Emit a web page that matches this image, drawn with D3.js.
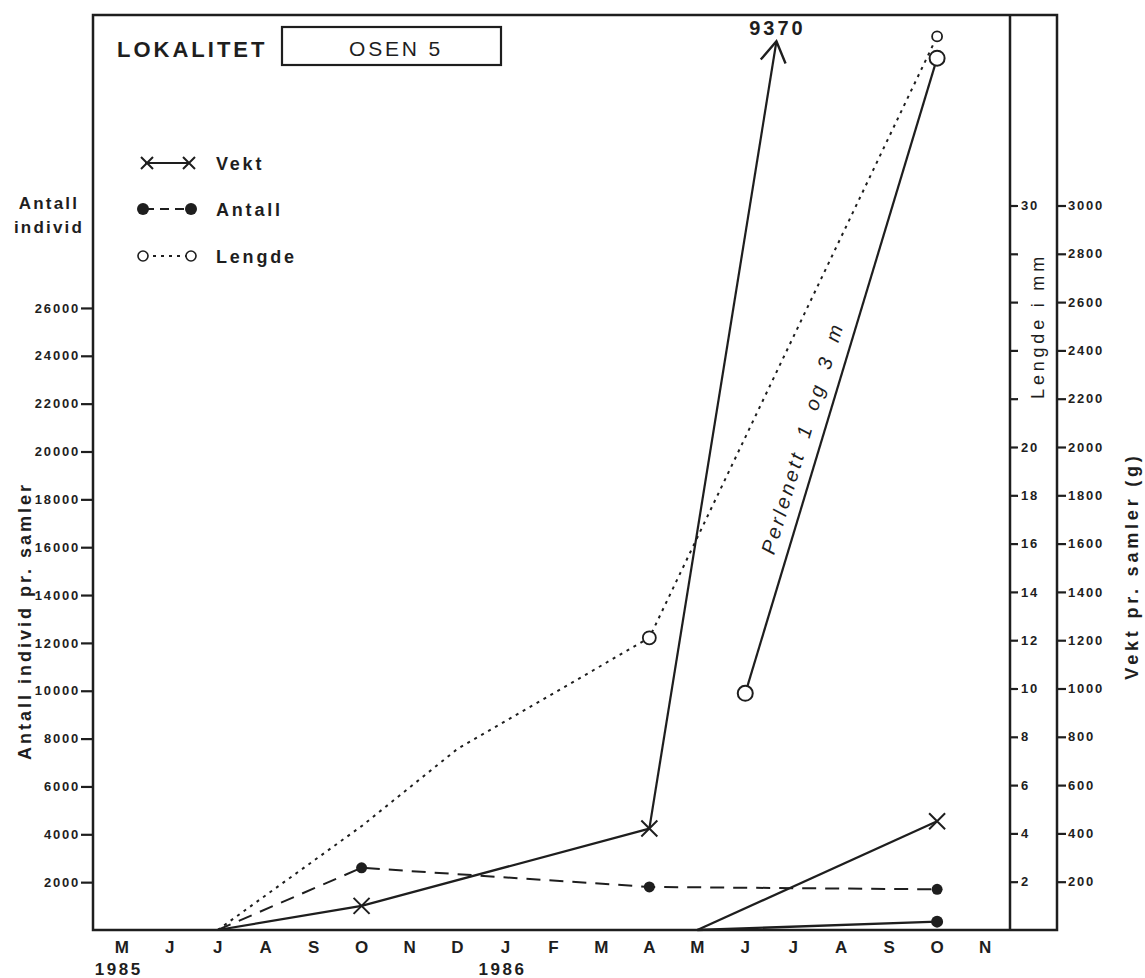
<!DOCTYPE html>
<html>
<head>
<meta charset="utf-8">
<script src="https://cdn.jsdelivr.net/npm/d3@7"></script>
<style>
  body { margin: 0; background: #fff; }
  svg text { font-family: "Liberation Sans", Arial, sans-serif; fill: #1e1e1e; }
</style>
</head>
<body>
<div class="graphic"></div>
<script>
// months counted from May 1985 (0) to Nov 1986 (18)
var monthLabels = ["M", "J", "J", "A", "S", "O", "N", "D", "J", "F", "M", "A", "M", "J", "J", "A", "S", "O", "N"];
var yearLabels = [{ m: 0, t: "1985" }, { m: 8, t: "1986" }];

var antallTicks = [2000, 4000, 6000, 8000, 10000, 12000, 14000, 16000, 18000, 20000, 22000, 24000, 26000];
var lengdeTicks = [2, 4, 6, 8, 10, 12, 14, 16, 18, 20, 22, 24, 26, 28, 30];
var lengdeLabelled = [2, 4, 6, 8, 10, 12, 14, 16, 18, 20, 30];
var vektTicks = [200, 400, 600, 800, 1000, 1200, 1400, 1600, 1800, 2000, 2200, 2400, 2600, 2800, 3000];

// Vekt (g), main series
var vektMonths = [2, 5, 11];
var vektValues = [0, 100, 420];
// off-scale value shown by arrow
var vektArrow = { m: 13.65, v: 3680, label: "9370" };

// Antall individ pr. samler
var antallMonths = [2, 5, 11, 17];
var antallValues = [0, 2600, 1800, 1700];

// Lengde i mm
var lengdeMonths = [2, 5, 7, 11, 17];
var lengdeValues = [0, 4.3, 7.5, 12.1, 37.0];
var lengdeMarked = [false, false, false, true, true];

// Perlenett 1 og 3 m
var perlLengdeMonths = [13, 17];
var perlLengdeValues = [9.8, 36.1];
var perlVektMonths = [12, 17];
var perlVektValues = [0, 450];
var perlAntallMonths = [12, 17];
var perlAntallValues = [0, 350];

var render = function() {
  var W = 1145, H = 978;
  var left = 93, right = 1010, outer = 1057, top = 15, bottom = 930;
  var ink = "#1e1e1e";
  var font = "'Liberation Sans', Arial, sans-serif";

  var svg = d3.select(".graphic").append("svg")
    .attr("width", W).attr("height", H);

  var x = d3.scaleLinear().domain([-0.6, 18.52]).range([left, right]);
  var yA = d3.scaleLinear().domain([0, 2000 * (bottom - top) / 47.85]).range([bottom, top]);
  var yL = d3.scaleLinear().domain([0, 2 * (bottom - top) / 48.3]).range([bottom, top]);
  var yV = d3.scaleLinear().domain([0, 200 * (bottom - top) / 48.3]).range([bottom, top]);

  // frame
  svg.append("path")
    .attr("d", "M" + left + "," + bottom + "V" + top + "H" + outer + "V" + bottom + "Z")
    .attr("fill", "none").attr("stroke", ink).attr("stroke-width", 2.5);
  svg.append("line")
    .attr("x1", right).attr("x2", right).attr("y1", top).attr("y2", bottom)
    .attr("stroke", ink).attr("stroke-width", 2.5);

  function styleAxis(g) {
    g.select(".domain").remove();
    g.selectAll("line").attr("stroke", ink).attr("stroke-width", 2.2);
    g.selectAll("text").attr("font-size", 13).attr("font-weight", "bold").attr("fill", ink)
      .attr("letter-spacing", 1.8).style("font-family", font);
  }

  // left axis
  var gA = svg.append("g").attr("transform", "translate(" + left + ",0)")
    .call(d3.axisLeft(yA).tickValues(antallTicks).tickSize(12).tickPadding(1).tickFormat(d3.format("d")));
  styleAxis(gA);

  // inner right axis (Lengde)
  var gL = svg.append("g").attr("transform", "translate(" + right + ",0)")
    .call(d3.axisRight(yL).tickValues(lengdeTicks).tickSize(8).tickPadding(3)
      .tickFormat(function(d) { return lengdeLabelled.indexOf(d) >= 0 ? d : ""; }));
  styleAxis(gL);

  // outer right axis (Vekt)
  var gV = svg.append("g").attr("transform", "translate(" + outer + ",0)")
    .call(d3.axisRight(yV).tickValues(vektTicks).tickSize(9).tickPadding(2).tickFormat(d3.format("d")));
  styleAxis(gV);

  // x axis labels
  svg.append("g").selectAll("text").data(monthLabels).enter().append("text")
    .attr("x", function(d, i) { return x(i); })
    .attr("y", 953)
    .attr("text-anchor", "middle")
    .attr("font-size", 17).attr("font-weight", "bold")
    .text(function(d) { return d; });
  svg.append("g").selectAll("text").data(yearLabels).enter().append("text")
    .attr("x", function(d) { return x(d.m) - 3; })
    .attr("y", 975)
    .attr("text-anchor", "middle")
    .attr("font-size", 17).attr("font-weight", "bold").attr("letter-spacing", 2.5)
    .text(function(d) { return d.t; });

  // axis titles
  svg.append("text").attr("transform", "translate(31,621) rotate(-90)")
    .attr("text-anchor", "middle").attr("font-size", 18).attr("font-weight", "bold")
    .attr("letter-spacing", 3).text("Antall individ pr. samler");
  svg.append("text").attr("x", 49).attr("y", 209).attr("text-anchor", "middle")
    .attr("font-size", 17).attr("font-weight", "bold").attr("letter-spacing", 2.2).text("Antall");
  svg.append("text").attr("x", 49).attr("y", 233).attr("text-anchor", "middle")
    .attr("font-size", 17).attr("font-weight", "bold").attr("letter-spacing", 2.2).text("individ");
  svg.append("text").attr("transform", "translate(1044,326) rotate(-90)")
    .attr("text-anchor", "middle").attr("font-size", 18).attr("letter-spacing", 3.8)
    .text("Lengde i mm");
  svg.append("text").attr("transform", "translate(1138,566) rotate(-90)")
    .attr("text-anchor", "middle").attr("font-size", 18).attr("font-weight", "bold")
    .attr("letter-spacing", 3.8).text("Vekt pr. samler (g)");

  // title
  svg.append("text").attr("x", 117).attr("y", 57).attr("font-size", 22).attr("font-weight", "bold")
    .attr("letter-spacing", 3).text("LOKALITET");
  svg.append("rect").attr("x", 282).attr("y", 27).attr("width", 219).attr("height", 38)
    .attr("fill", "none").attr("stroke", ink).attr("stroke-width", 2.2);
  svg.append("text").attr("x", 396).attr("y", 56).attr("text-anchor", "middle")
    .attr("font-size", 21).attr("letter-spacing", 2.8).text("OSEN 5");

  var line = d3.line();
  var styles = {
    vekt: { dash: null, w: 2.2 },
    antall: { dash: "14,9", w: 2 },
    lengde: { dash: "3,5", w: 2 }
  };

  function drawXMark(g, cx, cy, r) {
    g.append("path")
      .attr("d", "M" + (cx - r) + "," + (cy - r) + "L" + (cx + r) + "," + (cy + r) +
        "M" + (cx - r) + "," + (cy + r) + "L" + (cx + r) + "," + (cy - r))
      .attr("stroke", ink).attr("stroke-width", 2).attr("fill", "none");
  }

  var plot = svg.append("g");

  // Lengde dotted
  plot.append("path")
    .attr("d", line(lengdeMonths.map(function(m, i) { return [x(m), yL(lengdeValues[i])]; })))
    .attr("fill", "none").attr("stroke", ink).attr("stroke-width", styles.lengde.w)
    .attr("stroke-dasharray", styles.lengde.dash);

  // Antall dashed
  plot.append("path")
    .attr("d", line(antallMonths.map(function(m, i) { return [x(m), yA(antallValues[i])]; })))
    .attr("fill", "none").attr("stroke", ink).attr("stroke-width", styles.antall.w)
    .attr("stroke-dasharray", styles.antall.dash);

  // Vekt solid
  var vPts = vektMonths.map(function(m, i) { return [x(m), yV(vektValues[i])]; });
  plot.append("path").attr("d", line(vPts))
    .attr("fill", "none").attr("stroke", ink).attr("stroke-width", styles.vekt.w);
  var last = vPts[vPts.length - 1];
  var tip = [x(vektArrow.m), yV(vektArrow.v)];
  plot.append("line").attr("x1", last[0]).attr("y1", last[1]).attr("x2", tip[0]).attr("y2", tip[1])
    .attr("stroke", ink).attr("stroke-width", styles.vekt.w);
  var ang = Math.atan2(last[1] - tip[1], last[0] - tip[0]);
  var hl = 24, spread = 0.55;
  plot.append("path")
    .attr("d", "M" + (tip[0] + hl * Math.cos(ang - spread)) + "," + (tip[1] + hl * Math.sin(ang - spread)) +
      "L" + tip[0] + "," + tip[1] +
      "L" + (tip[0] + hl * Math.cos(ang + spread)) + "," + (tip[1] + hl * Math.sin(ang + spread)))
    .attr("fill", "none").attr("stroke", ink).attr("stroke-width", 2.4);
  svg.append("text").attr("x", tip[0] + 1).attr("y", tip[1] - 6).attr("text-anchor", "middle")
    .attr("font-size", 20).attr("font-weight", "bold").attr("letter-spacing", 3).text(vektArrow.label);

  // Perlenett lines
  plot.append("path")
    .attr("d", line(perlLengdeMonths.map(function(m, i) { return [x(m), yL(perlLengdeValues[i])]; })))
    .attr("fill", "none").attr("stroke", ink).attr("stroke-width", 2.2);
  plot.append("path")
    .attr("d", line(perlVektMonths.map(function(m, i) { return [x(m), yV(perlVektValues[i])]; })))
    .attr("fill", "none").attr("stroke", ink).attr("stroke-width", 2.2);
  plot.append("path")
    .attr("d", line(perlAntallMonths.map(function(m, i) { return [x(m), yA(perlAntallValues[i])]; })))
    .attr("fill", "none").attr("stroke", ink).attr("stroke-width", 2.4);

  // markers
  vektMonths.forEach(function(m, i) { if (vektValues[i] > 0) drawXMark(plot, x(m), yV(vektValues[i]), 8); });
  perlVektMonths.forEach(function(m, i) { if (perlVektValues[i] > 0) drawXMark(plot, x(m), yV(perlVektValues[i]), 8); });

  plot.selectAll(".adot").data(antallMonths.filter(function(m, i) { return antallValues[i] > 0; }))
    .enter().append("circle")
    .attr("cx", function(d) { return x(d); })
    .attr("cy", function(d) { return yA(antallValues[antallMonths.indexOf(d)]); })
    .attr("r", 5.5).attr("fill", ink);
  plot.selectAll(".pdot").data(perlAntallMonths.filter(function(m, i) { return perlAntallValues[i] > 0; }))
    .enter().append("circle")
    .attr("cx", function(d) { return x(d); })
    .attr("cy", function(d) { return yA(perlAntallValues[perlAntallMonths.indexOf(d)]); })
    .attr("r", 6).attr("fill", ink);

  lengdeMonths.forEach(function(m, i) {
    if (!lengdeMarked[i]) return;
    plot.append("circle").attr("cx", x(m)).attr("cy", yL(lengdeValues[i]))
      .attr("r", i === lengdeMonths.length - 1 ? 5 : 6.5)
      .attr("fill", "#fff").attr("stroke", ink).attr("stroke-width", 1.8);
  });
  perlLengdeMonths.forEach(function(m, i) {
    plot.append("circle").attr("cx", x(m)).attr("cy", yL(perlLengdeValues[i]))
      .attr("r", 7.5).attr("fill", "#fff").attr("stroke", ink).attr("stroke-width", 2);
  });

  // Perlenett label along its line
  var p0 = [x(perlLengdeMonths[0]), yL(perlLengdeValues[0])];
  var p1 = [x(perlLengdeMonths[1]), yL(perlLengdeValues[1])];
  var rot = Math.atan2(p1[1] - p0[1], p1[0] - p0[0]) * 180 / Math.PI;
  svg.append("text")
    .attr("transform", "translate(809,440) rotate(" + rot + ")")
    .attr("text-anchor", "middle").attr("font-size", 20).attr("font-style", "italic")
    .attr("letter-spacing", 3).attr("word-spacing", 6).text("Perlenett 1 og 3 m");

  // legend
  var lg = svg.append("g");
  var legendRows = [
    { key: "vekt", label: "Vekt", y: 163 },
    { key: "antall", label: "Antall", y: 209 },
    { key: "lengde", label: "Lengde", y: 256 }
  ];
  legendRows.forEach(function(r) {
    var st = styles[r.key];
    lg.append("line").attr("x1", 145).attr("x2", 190).attr("y1", r.y).attr("y2", r.y)
      .attr("stroke", ink).attr("stroke-width", r.key === "vekt" ? 1.8 : st.w)
      .attr("stroke-dasharray", r.key === "antall" ? "9,6" : st.dash);
    if (r.key === "vekt") {
      drawXMark(lg, 147, r.y, 6); drawXMark(lg, 189, r.y, 6);
    } else if (r.key === "antall") {
      lg.append("circle").attr("cx", 143).attr("cy", r.y).attr("r", 6).attr("fill", ink);
      lg.append("circle").attr("cx", 191).attr("cy", r.y).attr("r", 6).attr("fill", ink);
    } else {
      lg.append("circle").attr("cx", 143).attr("cy", r.y).attr("r", 5).attr("fill", "#fff").attr("stroke", ink).attr("stroke-width", 1.6);
      lg.append("circle").attr("cx", 191).attr("cy", r.y).attr("r", 5).attr("fill", "#fff").attr("stroke", ink).attr("stroke-width", 1.6);
    }
    lg.append("text").attr("x", 216).attr("y", r.y + 7).attr("font-size", 18).attr("font-weight", "bold")
      .attr("letter-spacing", 2.8).text(r.label);
  });
};

render();
</script>
</body>
</html>
